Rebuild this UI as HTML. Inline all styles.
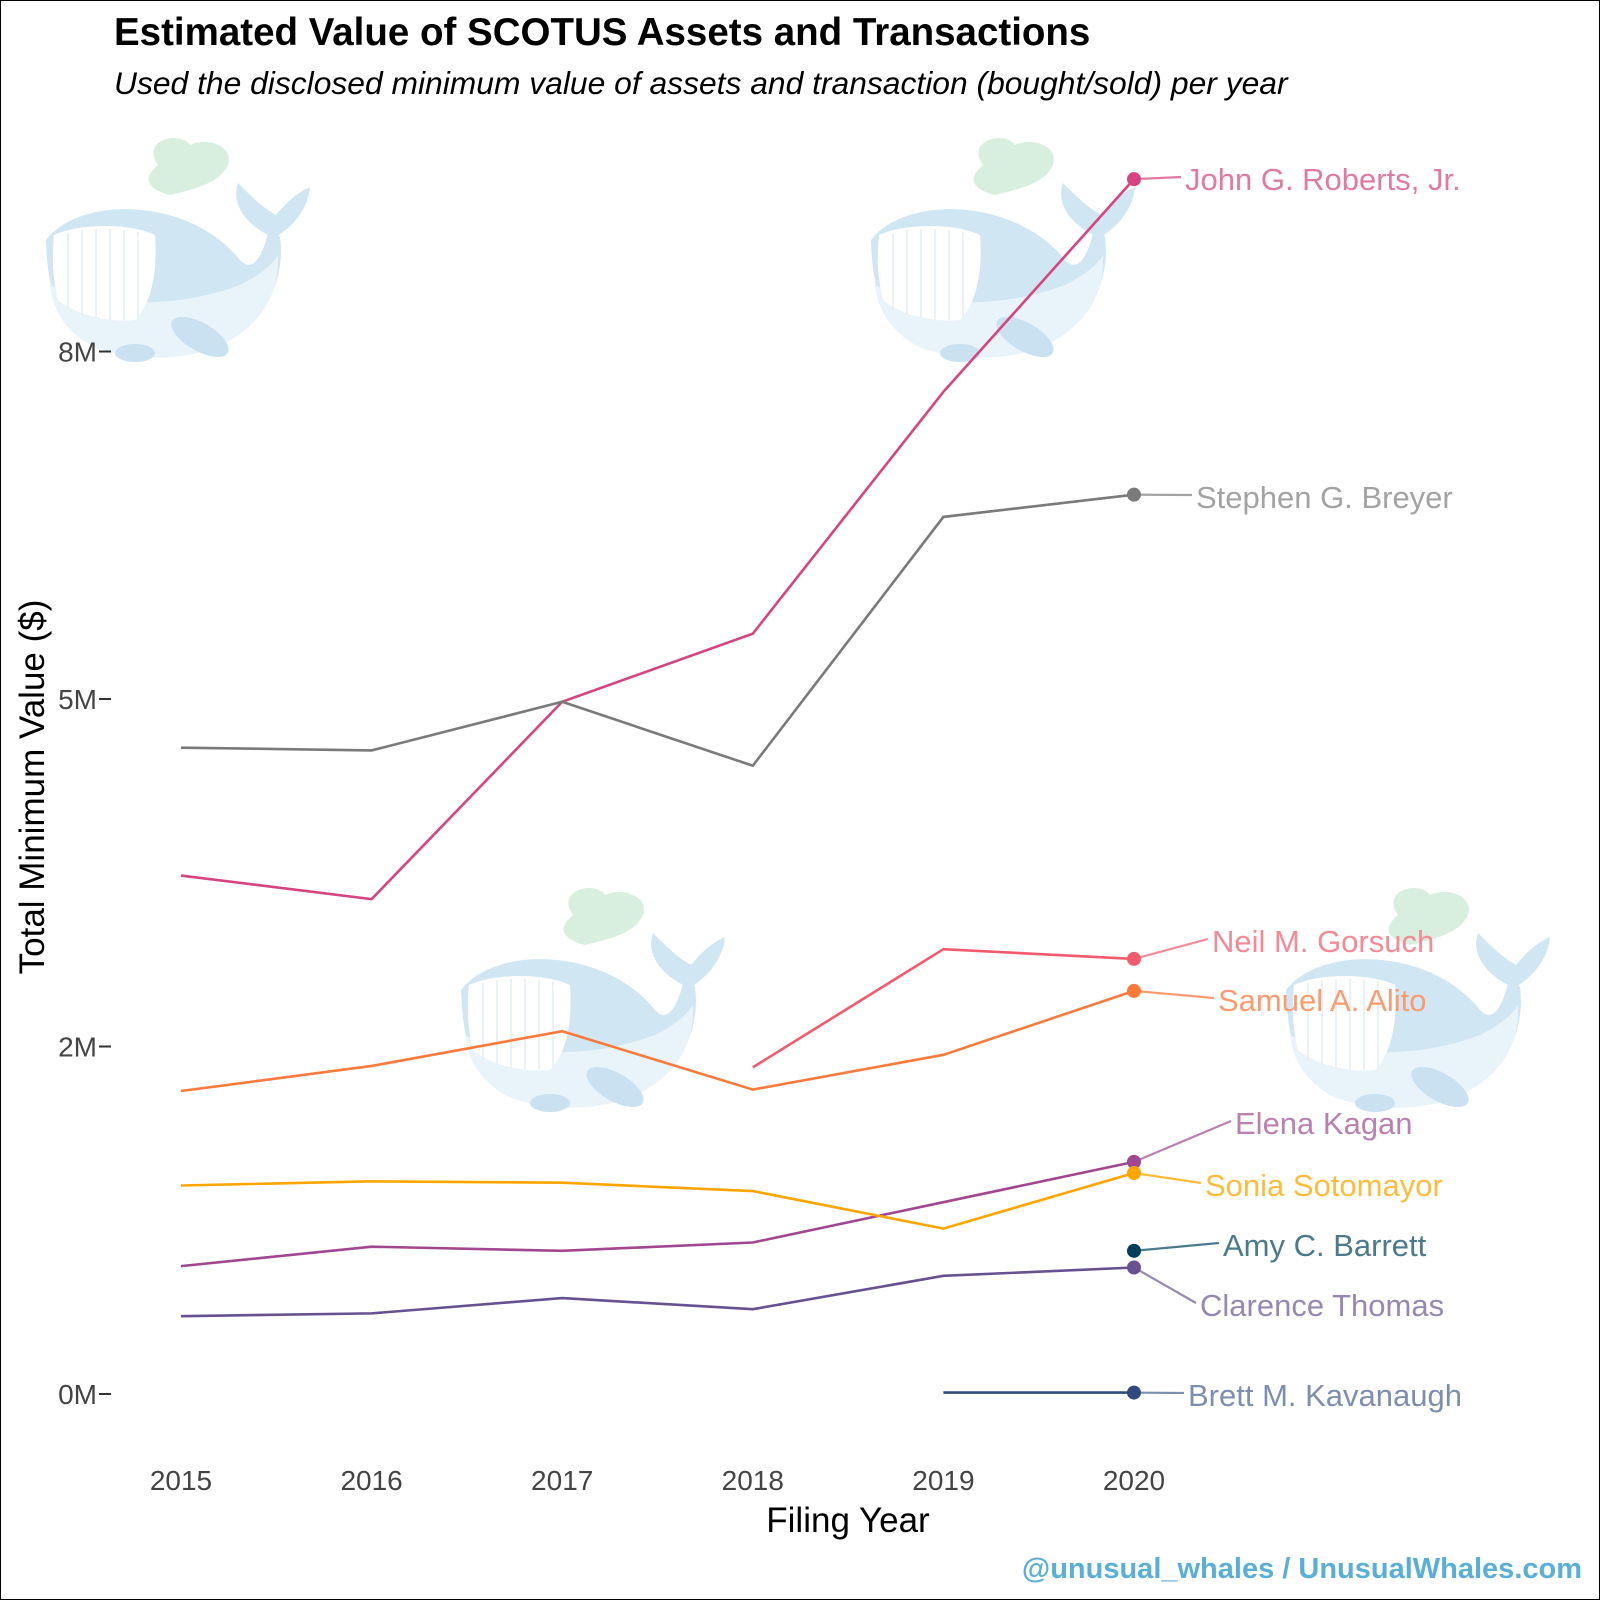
<!DOCTYPE html>
<html><head><meta charset="utf-8"><style>
html,body{margin:0;padding:0;background:#fff}
svg{display:block}
text{font-family:"Liberation Sans",Arial,sans-serif}
</style></head><body>
<svg id="chart" width="1600" height="1600" viewBox="0 0 1600 1600" xmlns="http://www.w3.org/2000/svg">
<defs>
<g id="whale">
  <path d="M118,40 C100,15 140,5 150,20 C170,10 200,25 185,45 C175,60 150,65 130,70 C110,65 100,55 118,40 Z" fill="#d8efdf"/>
  <path d="M228,110 C200,95 192,75 198,58 C212,72 222,82 236,90 C246,78 256,68 270,62 C268,85 252,102 236,112 Z" fill="#d1e6f3"/>
  <path d="M6,115 C40,70 150,72 200,135 C214,150 224,128 230,100 L240,112 C245,150 230,190 190,215 C150,238 90,236 55,222 C25,208 8,180 6,115 Z" fill="#d1e6f3"/>
  <path d="M10,160 C40,175 120,190 200,160 C220,150 232,140 238,130 C240,170 220,200 185,218 C145,238 90,236 55,222 C28,208 14,190 10,160 Z" fill="#e8f3fa"/>
  <path d="M14,110 C40,98 90,98 115,110 C118,150 110,180 95,195 C70,198 35,190 18,175 C12,150 12,130 14,110 Z" fill="#ffffff"/>
  <path d="M28,108 V185 M42,105 V190 M56,104 V193 M70,104 V195 M84,105 V195 M98,107 V192" stroke="#e3eef5" stroke-width="1.5"/>
  <circle cx="103" cy="113" r="5" fill="#fff"/>
  <ellipse cx="160" cy="212" rx="32" ry="14" transform="rotate(30 160 212)" fill="#c9e1f0"/>
  <ellipse cx="95" cy="228" rx="20" ry="9" fill="#c9e1f0"/>
</g>
</defs>
<rect x="0.5" y="0.5" width="1599" height="1599" fill="#fff" stroke="#000" stroke-width="1"/>
<use href="#whale" x="40" y="125"/>
<use href="#whale" x="865" y="125"/>
<use href="#whale" x="455" y="875"/>
<use href="#whale" x="1280" y="875"/>
<text x="114" y="45" font-size="38.5" font-weight="bold" fill="#000">Estimated Value of SCOTUS Assets and Transactions</text>
<text x="114" y="94" font-size="31.8" font-style="italic" fill="#000">Used the disclosed minimum value of assets and transaction (bought/sold) per year</text>
<text transform="translate(44,787) rotate(-90)" text-anchor="middle" font-size="35" fill="#000">Total Minimum Value ($)</text>
<text x="848" y="1532" text-anchor="middle" font-size="35" fill="#000">Filing Year</text>
<text x="1582" y="1578" text-anchor="end" font-size="29" font-weight="bold" fill="#5aafd8">@unusual_whales / UnusualWhales.com</text>
<g id="axes"></g>
<g id="series"></g>
</svg>
<script>
const years = [2015, 2016, 2017, 2018, 2019, 2020];
const yTicks = [0, 2.5, 5, 7.5];
const yTickLabels = ["0M", "2M", "5M", "8M"];
const justices = ["John G. Roberts, Jr.", "Stephen G. Breyer", "Neil M. Gorsuch", "Samuel A. Alito", "Elena Kagan", "Sonia Sotomayor", "Amy C. Barrett", "Clarence Thomas", "Brett M. Kavanaugh"];
const roberts = [3.73, 3.56, 4.98, 5.47, 7.21, 8.74];
const breyer = [4.65, 4.63, 4.98, 4.52, 6.31, 6.47];
const gorsuch = [null, null, null, 2.35, 3.20, 3.13];
const alito = [2.18, 2.36, 2.61, 2.19, 2.44, 2.90];
const kagan = [0.92, 1.06, 1.03, 1.09, 1.38, 1.67];
const sotomayor = [1.50, 1.53, 1.52, 1.46, 1.19, 1.59];
const barrett = [null, null, null, null, null, 1.03];
const thomas = [0.56, 0.58, 0.69, 0.61, 0.85, 0.91];
const kavanaugh = [null, null, null, null, 0.01, 0.01];

const seriesValues = [roberts, breyer, gorsuch, alito, kagan, sotomayor, barrett, thomas, kavanaugh];
const lineColors = ["#d6457f","#7a7a7a","#f25a6e","#fa7a3c","#a0478f","#ffa500","#003f5c","#665191","#2f4b7c"];
const labelColors = ["#e07aa2","#a3a3a3","#f58a95","#fb9b6e","#bb80b2","#ffbc3c","#4a7a8c","#9688b3","#7d8fae"];
const labelPos = [[1185,179],[1196,497],[1212,941],[1218,1000],[1235,1123],[1205,1185],[1223,1245],[1200,1305],[1188,1395]];

const NS = "http://www.w3.org/2000/svg";
function xScale(yr){ return 181 + (yr - 2015) * 190.6; }
function yScale(v){ return 1394 - v * 139.0; }
function mk(tag, attrs, parent){ const e = document.createElementNS(NS, tag); for (const k in attrs) e.setAttribute(k, attrs[k]); parent.appendChild(e); return e; }

const axes = document.getElementById('axes');
yTicks.forEach((t, i) => {
  const tk = mk('line', {x1: 99, x2: 111, y1: yScale(t), y2: yScale(t), stroke: '#333', 'stroke-width': 2}, axes);
  
  
  const tl = mk('text', {x: 97, y: yScale(t) + 10, 'text-anchor': 'end', 'font-size': 28, fill: '#444'}, axes);
  tl.textContent = yTickLabels[i];
  
  
});
years.forEach(yr => {
  const tl = mk('text', {x: xScale(yr), y: 1490, 'text-anchor': 'middle', 'font-size': 28, fill: '#444'}, axes);
  tl.textContent = yr;
  
  
});

const sg = document.getElementById('series');
seriesValues.forEach((vals, s) => {
  const pts = [];
  vals.forEach((v, i) => { if (v !== null) pts.push([xScale(years[i]), yScale(v)]); });
  if (pts.length > 1) {
    const pl = mk('polyline', {points: pts.map(p => p.join(',')).join(' '), fill: 'none', stroke: lineColors[s], 'stroke-width': 2.6}, sg);
    
    
  }
  const last = pts[pts.length - 1];
  const lp = labelPos[s];
  const conn = mk('line', {x1: last[0], y1: last[1], x2: lp[0] - 4, y2: lp[1] - 2, stroke: labelColors[s], 'stroke-width': 2.2}, sg);
  
  
  const dot = mk('circle', {cx: last[0], cy: last[1], r: 7, fill: lineColors[s]}, sg);
  
  
  const lab = mk('text', {x: lp[0], y: lp[1] + 11, 'font-size': 31, fill: labelColors[s]}, sg);
  lab.textContent = justices[s];
  
  
});
</script>
</body></html>
